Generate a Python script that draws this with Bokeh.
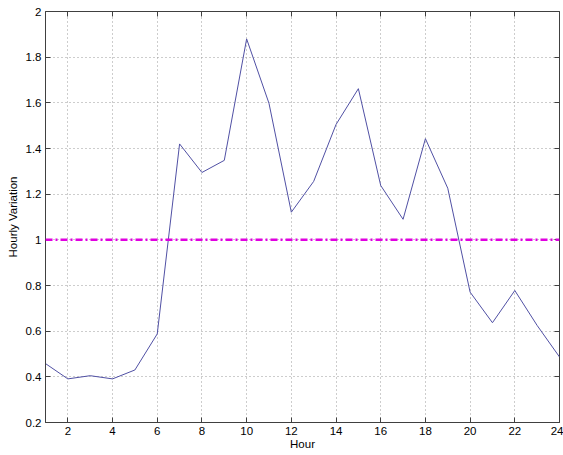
from bokeh.plotting import figure
from bokeh.models import LinearAxis, FixedTicker, Range1d, Span
from bokeh.embed import file_html
from bokeh.resources import INLINE

# Hourly variation factors over the day
hours = list(range(1, 25))
variation = [0.458, 0.391, 0.405, 0.391, 0.430, 0.588, 1.420, 1.295, 1.348, 1.880,
             1.598, 1.121, 1.256, 1.505, 1.662, 1.238, 1.090, 1.443, 1.226, 0.771,
             0.637, 0.778, 0.625, 0.487]
reference_level = 1.0

x_ticks = [2, 4, 6, 8, 10, 12, 14, 16, 18, 20, 22, 24]
y_ticks = [0.2, 0.4, 0.6, 0.8, 1.0, 1.2, 1.4, 1.6, 1.8, 2.0]
y_tick_labels = ["0.2", "0.4", "0.6", "0.8", "1", "1.2", "1.4", "1.6", "1.8", "2"]

FONT = "Liberation Sans"

p = figure(width=563, height=455, output_backend="svg", toolbar_location=None,
           x_range=Range1d(1, 24), y_range=Range1d(0.2, 2.0),
           min_border_left=45, min_border_right=4, min_border_top=11, min_border_bottom=33,
           x_axis_label="Hour", y_axis_label="Hourly Variation")

p.outline_line_color = "#404040"
p.outline_line_width = 1
p.background_fill_color = "white"
p.border_fill_color = "white"

for ax in (p.xaxis[0], p.yaxis[0]):
    ax.axis_line_color = "#404040"
    ax.major_tick_in = 5
    ax.major_tick_out = 0
    ax.minor_tick_line_color = None
    ax.major_tick_line_color = "#404040"
    ax.major_label_text_font = FONT
    ax.major_label_text_font_size = "11.5px"
    ax.major_label_text_color = "black"
    ax.axis_label_text_font = FONT
    ax.axis_label_text_font_size = "11.5px"
    ax.axis_label_text_font_style = "normal"
    ax.axis_label_text_color = "black"

p.xaxis.ticker = FixedTicker(ticks=x_ticks)
p.yaxis.ticker = FixedTicker(ticks=y_ticks)
p.yaxis.major_label_overrides = {t: s for t, s in zip(y_ticks, y_tick_labels)}
p.xaxis.major_label_standoff = 4
p.xaxis.axis_label_standoff = 0
p.yaxis.major_label_standoff = 4
p.yaxis.axis_label_standoff = 4

# Tick marks on the top and right edges of the box (no labels)
for side, ticks in (("right", y_ticks), ("above", x_ticks)):
    ax = LinearAxis(ticker=FixedTicker(ticks=ticks))
    ax.major_tick_in = 5
    ax.major_tick_out = 0
    ax.minor_tick_line_color = None
    ax.major_tick_line_color = "#404040"
    ax.axis_line_color = None
    ax.major_label_text_color = None
    ax.major_label_text_font_size = "1px"
    ax.major_label_standoff = 0
    p.add_layout(ax, side)

p.grid.grid_line_color = "#9a9a9a"
p.grid.grid_line_dash = "1 3"
p.grid.grid_line_width = 1
p.xgrid.ticker = FixedTicker(ticks=x_ticks)
p.ygrid.ticker = FixedTicker(ticks=y_ticks)

p.line(hours, variation, line_color="#5050a4", line_width=1)

p.add_layout(Span(location=reference_level, dimension="width",
                  line_color="#e000e0", line_width=2.5, line_dash="7 3 2 3"))

open("out.html", "w").write(file_html(p, INLINE))
